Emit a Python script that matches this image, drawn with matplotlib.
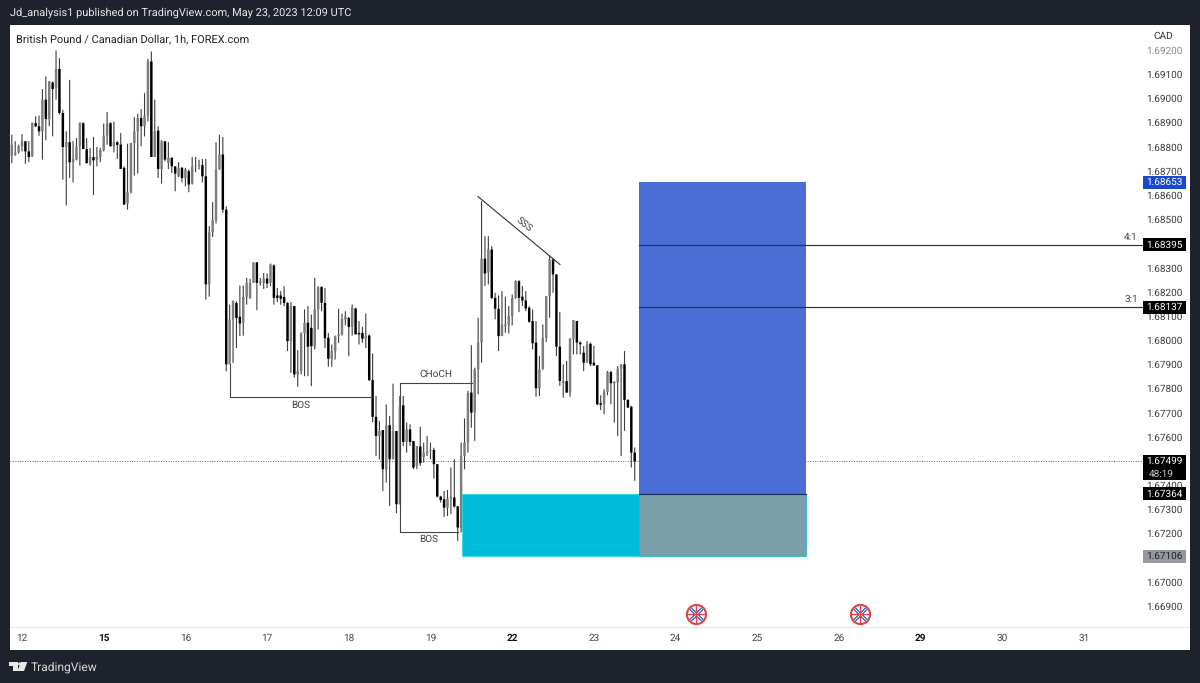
import matplotlib
matplotlib.use("Agg")
import matplotlib.pyplot as plt
from matplotlib.patches import Polygon, Rectangle, Circle
from matplotlib.transforms import IdentityTransform, blended_transform_factory

plt.rcParams['font.family'] = ['Roboto', 'DejaVu Sans']
plt.rcParams['text.hinting'] = 'no_hinting'
plt.rcParams['text.hinting_factor'] = 1

# ---------- data ----------
first_bar = -3
opens = [
1.68763,1.68768,1.68777,1.68802,1.68823,1.68781,1.68761,1.68898,1.68885,1.68864,1.68995,1.68915,1.69066,1.69043,1.69122,1.68940,1.68799,1.68819,1.68736,1.68747,
1.68802,1.68898,1.68791,1.68730,1.68758,1.68747,1.68758,1.68786,1.68846,1.68898,1.68802,1.68819,1.68809,1.68713,1.68565,1.68612,1.68816,1.68864,1.68919,1.68885,
1.68929,1.69153,1.68758,1.68867,1.68708,1.68823,1.68733,1.68754,1.68719,1.68678,1.68713,1.68671,1.68699,1.68648,1.68719,1.68722,1.68725,1.68678,1.68231,1.68447,
1.68496,1.68706,1.68768,1.68540,1.67900,1.68086,1.68154,1.68097,1.68072,1.68179,1.68175,1.68237,1.68322,1.68237,1.68237,1.68255,1.68237,1.68309,1.68185,1.68185,
1.68179,1.68154,1.67996,1.68141,1.67858,1.67872,1.68028,1.68072,1.68051,1.67975,1.68127,1.68220,1.68154,1.68010,1.67923,1.67955,1.68017,1.68024,1.68086,1.68092,
1.68055,1.68131,1.68030,1.68030,1.68006,1.68019,1.67835,1.67683,1.67604,1.67628,1.67466,1.67648,1.67507,1.67624,1.67321,1.67730,1.67579,1.67631,1.67583,1.67480,
1.67560,1.67518,1.67532,1.67542,1.67546,1.67487,1.67353,1.67342,1.67307,1.67345,1.67349,1.67312,1.67225,1.67521,1.67576,1.67783,1.67700,1.67879,1.67990,1.68337,
1.68279,1.68375,1.68175,1.68130,1.68017,1.68058,1.68065,1.68100,1.68175,1.68244,1.68180,1.68164,1.68134,1.68079,1.67990,1.67801,1.67879,1.68010,1.68182,1.68334,
1.68272,1.67973,1.67822,1.67831,1.67783,1.68003,1.68079,1.67990,1.67948,1.67907,1.67985,1.67907,1.67896,1.67739,1.67735,1.67786,1.67868,1.67822,1.67824,1.67882,
1.67900,1.67753,1.67725,1.67535]
closes = [
1.68809,1.68777,1.68802,1.68823,1.68781,1.68758,1.68898,1.68885,1.68864,1.68995,1.68915,1.69071,1.69039,1.69122,1.68940,1.68799,1.68819,1.68736,1.68750,1.68802,
1.68898,1.68791,1.68733,1.68758,1.68744,1.68758,1.68788,1.68846,1.68896,1.68802,1.68819,1.68808,1.68708,1.68561,1.68612,1.68816,1.68864,1.68919,1.68885,1.68929,
1.69153,1.68758,1.68864,1.68708,1.68823,1.68747,1.68754,1.68719,1.68689,1.68713,1.68671,1.68706,1.68644,1.68719,1.68722,1.68726,1.68678,1.68231,1.68447,1.68496,
1.68706,1.68768,1.68540,1.67900,1.68086,1.68161,1.68092,1.68069,1.68179,1.68237,1.68237,1.68322,1.68237,1.68244,1.68255,1.68234,1.68313,1.68175,1.68175,1.68171,
1.68154,1.67996,1.68141,1.67858,1.67872,1.68028,1.68072,1.67973,1.67975,1.68127,1.68220,1.68154,1.68008,1.67923,1.67955,1.68017,1.68024,1.68088,1.68097,1.68055,
1.68134,1.68024,1.68024,1.68006,1.68017,1.67835,1.67683,1.67604,1.67624,1.67466,1.67648,1.67507,1.67624,1.67321,1.67728,1.67579,1.67631,1.67579,1.67473,1.67562,
1.67491,1.67535,1.67539,1.67546,1.67487,1.67353,1.67339,1.67307,1.67345,1.67352,1.67312,1.67225,1.67521,1.67576,1.67780,1.67700,1.67879,1.67990,1.68337,1.68276,
1.68375,1.68175,1.68130,1.68017,1.68065,1.68065,1.68100,1.68175,1.68244,1.68175,1.68164,1.68131,1.68076,1.67987,1.67801,1.67879,1.68010,1.68182,1.68334,1.68272,
1.67973,1.67831,1.67831,1.67783,1.68007,1.68083,1.67990,1.67983,1.67907,1.67983,1.67900,1.67896,1.67735,1.67733,1.67786,1.67868,1.67822,1.67827,1.67882,1.67900,
1.67753,1.67721,1.67535,1.67499]
highs = [
1.68850,1.68823,1.68809,1.68853,1.68823,1.68823,1.68901,1.68926,1.68929,1.69039,1.69091,1.69071,1.69071,1.69199,1.69167,1.68953,1.68864,1.69077,1.68823,1.68836,
1.68901,1.68901,1.68836,1.68795,1.68841,1.68799,1.68795,1.68896,1.68944,1.68901,1.68904,1.68823,1.68857,1.68719,1.68813,1.68816,1.68923,1.68937,1.68956,1.69022,
1.69163,1.69194,1.68995,1.68885,1.68827,1.68823,1.68819,1.68757,1.68719,1.68736,1.68717,1.68713,1.68706,1.68758,1.68758,1.68747,1.68750,1.68750,1.68472,1.68571,
1.68819,1.68850,1.68841,1.68554,1.68147,1.68164,1.68161,1.68226,1.68226,1.68258,1.68254,1.68322,1.68322,1.68258,1.68278,1.68276,1.68317,1.68313,1.68216,1.68203,
1.68223,1.68157,1.68157,1.68141,1.67959,1.68033,1.68127,1.68141,1.68106,1.68258,1.68223,1.68223,1.68216,1.68030,1.67982,1.68019,1.68130,1.68110,1.68120,1.68097,
1.68147,1.68134,1.68079,1.68055,1.68110,1.68024,1.67945,1.67769,1.67666,1.67628,1.67734,1.67686,1.67820,1.67624,1.67769,1.67769,1.67659,1.67652,1.67583,1.67562,
1.67642,1.67576,1.67604,1.67576,1.67555,1.67487,1.67356,1.67376,1.67380,1.67473,1.67507,1.67314,1.67576,1.67676,1.67790,1.67979,1.67886,1.68093,1.68575,1.68430,
1.68430,1.68389,1.68196,1.68185,1.68203,1.68180,1.68141,1.68189,1.68248,1.68248,1.68224,1.68203,1.68141,1.68127,1.68079,1.67934,1.68065,1.68182,1.68348,1.68334,
1.68272,1.68116,1.67900,1.67914,1.68007,1.68083,1.68079,1.67996,1.67976,1.67996,1.67990,1.67976,1.67896,1.67772,1.67797,1.67873,1.67873,1.67831,1.67893,1.67900,
1.67955,1.67755,1.67728,1.67556]
lows = [
1.68733,1.68763,1.68772,1.68781,1.68730,1.68736,1.68758,1.68882,1.68846,1.68747,1.68827,1.68885,1.68843,1.68995,1.68933,1.68664,1.68558,1.68671,1.68653,1.68744,
1.68722,1.68791,1.68730,1.68722,1.68600,1.68719,1.68736,1.68781,1.68809,1.68802,1.68777,1.68750,1.68708,1.68561,1.68540,1.68607,1.68681,1.68689,1.68802,1.68843,
1.68905,1.68758,1.68761,1.68671,1.68648,1.68740,1.68708,1.68692,1.68616,1.68675,1.68653,1.68637,1.68612,1.68644,1.68695,1.68706,1.68653,1.68168,1.68180,1.68427,
1.68483,1.68706,1.68527,1.67871,1.67906,1.67906,1.67968,1.68017,1.68019,1.68147,1.68171,1.68237,1.68124,1.68226,1.68212,1.68216,1.68223,1.68147,1.68157,1.68147,
1.68141,1.67955,1.67865,1.67845,1.67807,1.67858,1.67851,1.67851,1.67810,1.67962,1.68044,1.68120,1.67968,1.67890,1.67890,1.67920,1.67989,1.68019,1.68061,1.67934,
1.68019,1.68024,1.67982,1.67989,1.67968,1.67831,1.67661,1.67521,1.67507,1.67376,1.67411,1.67314,1.67507,1.67284,1.67321,1.67562,1.67535,1.67562,1.67466,1.67466,
1.67480,1.67493,1.67521,1.67507,1.67427,1.67349,1.67328,1.67269,1.67273,1.67280,1.67307,1.67170,1.67205,1.67466,1.67535,1.67638,1.67583,1.67776,1.67907,1.68224,
1.68231,1.68170,1.68086,1.67955,1.68017,1.68031,1.68028,1.68061,1.68171,1.68116,1.68141,1.68120,1.68072,1.67962,1.67766,1.67769,1.67879,1.67992,1.68093,1.68196,
1.67934,1.67811,1.67762,1.67783,1.67766,1.67941,1.67941,1.67941,1.67872,1.67907,1.67893,1.67893,1.67731,1.67711,1.67693,1.67772,1.67735,1.67659,1.67604,1.67521,
1.67625,1.67721,1.67473,1.67418]

price_ticks = [1.692,1.691,1.690,1.689,1.688,1.687,1.686,1.685,1.683,1.682,1.681,1.680,
               1.679,1.678,1.677,1.676,1.674,1.673,1.672,1.670,1.669]
date_labels = ['12','15','16','17','18','19','22','23','24','25','26','29','30','31']
bold_dates = ['15','22','29']
bars_per_day = 24

last_price = 1.67499
countdown = '48:19'
target_price = 1.68653
entry_price = 1.67364
stop_price = 1.67106
level_prices = [1.68395, 1.68137]
level_labels = ['4:1', '3:1']

position_start, position_mid, position_end = 129.3, 181.25, 230.3
bos1_bars = [61.1, 61.1, 102.8]
bos1_prices = [1.67900, 1.67763, 1.67763]
choch_bars = [132.2, 111.1, 111.1, 128.1]
choch_prices = [1.67821, 1.67821, 1.67207, 1.67207]
sss_bars = [133.96, 158.05]
sss_prices = [1.68594, 1.68313]
note_labels = ['BOS', 'CHoCH', 'BOS', 'SSS']
note_bars = [82.0, 121.6, 119.6, 147.5]
note_prices = [1.67730, 1.67858, 1.67176, 1.68478]
note_rotation = [0, 0, 0, -39]
flag_bars = [198.0, 246.2]
flag_price = 1.66867

# ---------- layout ----------
W, H = 1200, 683
DARK = '#1e222d'
fig = plt.figure(figsize=(W/100, H/100), dpi=100, facecolor=DARK)
L, R, T, B = 10, 1190, 25, 650
ax = fig.add_axes([L/W, 1-B/H, (R-L)/W, (B-T)/H], facecolor='white')
px_per_bar, x0 = 3.404, 22
PX_PER_UNIT, Y_AT_1691 = 24170, 74.3
ax.set_xlim((L-x0)/px_per_bar, (R-x0)/px_per_bar)
ax.set_ylim(1.691-(B-Y_AT_1691)/PX_PER_UNIT, 1.691+(Y_AT_1691-T)/PX_PER_UNIT)
for s in ax.spines.values():
    s.set_visible(False)

# ticks drawn inside the panel, like the price and time scales
ax.yaxis.tick_right()
ax.set_yticks(price_ticks)
ax.set_yticklabels([f'{p:.5f}' for p in price_ticks], ha='right')
ax.tick_params(axis='y', length=0, pad=-5.5, labelsize=7.2, labelcolor='#3a3a3a')
ax.get_yticklabels()[0].set_color('#8a8a8a')
ax.set_xticks([k*bars_per_day for k in range(len(date_labels))])
ax.set_xticklabels(date_labels)
ax.tick_params(axis='x', length=0, pad=-12, labelsize=7.4, labelcolor='#444444')
for lab in ax.get_xticklabels():
    if lab.get_text() in bold_dates:
        lab.set_fontweight('bold')
        lab.set_color('#111111')
ax.set_axisbelow(True)

# time-scale separator
ax.axhline(1.691-(627-Y_AT_1691)/PX_PER_UNIT, color='#e6e6e6', lw=0.8, zorder=1)

# candles
idx = [first_bar+i for i in range(len(opens))]
wicks = ax.vlines(idx, lows, highs, color='#3c3c3c', lw=0.8, zorder=3)
wicks.set_snap(False)
for i, o, c in zip(idx, opens, closes):
    up = c >= o
    rects = ax.bar(i, abs(c-o), bottom=min(o, c), width=0.72,
                   color='#7d7d7d' if up else '#000000', linewidth=0, zorder=3.2)
    rects[0].set_snap(False)

# position tool
axis_bar = (1143-x0)/px_per_bar

# last price
ax.plot([ax.get_xlim()[0], axis_bar], [last_price]*2, color='#666666',
        lw=0.7, ls=(0, (1, 1.5)), zorder=2.5)

ax.add_patch(Rectangle((position_start, stop_price), position_mid-position_start, entry_price-stop_price,
                       fc='#00bcd8', ec='#22d3ee', lw=0.5, zorder=4))
ax.add_patch(Rectangle((position_mid, stop_price), position_end-position_mid, entry_price-stop_price,
                       fc='#7b9eab', ec='#00bcd8', lw=0.5, zorder=4))
ax.add_patch(Rectangle((position_mid, entry_price), position_end-position_mid, target_price-entry_price,
                       fc='#4a6dd6', ec='none', zorder=4))
ax.plot([position_mid, position_end], [entry_price]*2, color='#1a2a55', lw=0.8, zorder=4.5)

# target levels
for p, t in zip(level_prices, level_labels):
    ax.plot([position_mid, axis_bar], [p, p], color='#333333', lw=0.85, zorder=4.5)
    ax.text(axis_bar-1.5, p+0.00012, t, ha='right', va='bottom', fontsize=7, color='#444444', zorder=5)

# structure drawings
ax.plot(bos1_bars, bos1_prices, color='#444444', lw=0.8, zorder=3.6)
ax.plot(choch_bars, choch_prices, color='#444444', lw=0.8, zorder=3.6)
ax.plot(sss_bars, sss_prices, color='#333333', lw=0.8, zorder=3.6)
for t, b, p, r in zip(note_labels, note_bars, note_prices, note_rotation):
    ax.text(b, p, t, ha='center', va='center', rotation=r, rotation_mode='anchor',
            fontsize=7.2, color='#444444', zorder=5)

# event flags
ax.plot(flag_bars, [flag_price]*2, ls='', marker='o', ms=13.8, mfc='white', mec='#e0434b', mew=1.5, zorder=5)
ax.plot(flag_bars, [flag_price]*2, ls='', marker='x', ms=8, mec='#2b4fa8', mew=2.4, zorder=5.1)
ax.plot(flag_bars, [flag_price]*2, ls='', marker='x', ms=9, mec='white', mew=0.7, zorder=5.15)
ax.plot(flag_bars, [flag_price]*2, ls='', marker='+', ms=12.5, mec='#e0434b', mew=1.0, zorder=5.2)

# price labels on the scale
trans = blended_transform_factory(ax.transAxes, ax.transData)
def label_x(px):
    return (px-L)/(R-L)
boxes = [(target_price, '#1848cc', 'white'), (level_prices[0], 'black', 'white'),
         (level_prices[1], 'black', 'white'), (entry_price, 'black', 'white'),
         (stop_price, '#9598a1', '#222222')]
for p, bg, fg in boxes:
    ax.add_patch(Rectangle((label_x(1143), p-6.5/PX_PER_UNIT), 43/(R-L), 13/PX_PER_UNIT, transform=trans,
                           fc=bg, ec='none', zorder=6))
    ax.text(label_x(1182.5), p, f'{p:.5f}', transform=trans, ha='right', va='center',
            fontsize=7.2, color=fg, zorder=7)
ax.add_patch(Rectangle((label_x(1143), last_price-18.5/PX_PER_UNIT), 43/(R-L), 25/PX_PER_UNIT, transform=trans,
                       fc='black', ec='none', zorder=6))
ax.text(label_x(1182.5), last_price, f'{last_price:.5f}', transform=trans, ha='right', va='center',
        fontsize=7.2, color='white', zorder=7)
ax.text(label_x(1149), last_price-12.5/PX_PER_UNIT, countdown, transform=trans, ha='left', va='center',
        fontsize=7.2, color='#cccccc', zorder=7)

# header / footer text
ax.text(label_x(16), (B-39)/(B-T), 'British Pound / Canadian Dollar, 1h, FOREX.com',
        transform=ax.transAxes, ha='left', va='center', fontsize=8.1, color='#222222', zorder=7)
ax.text(label_x(1153), (B-36)/(B-T), 'CAD', transform=ax.transAxes, ha='left', va='center',
        fontsize=7, color='#333333', zorder=7)
fig.text(10/W, 1-13/H, 'Jd_analysis1 published on TradingView.com, May 23, 2023 12:09 UTC',
         color='#e8e8e8', fontsize=8.1, ha='left', va='center')
fig.text(31/W, 1-667/H, 'TradingView', color='#d8d8d8', fontsize=8.8, ha='left', va='center')

# logo
def px_poly(points):
    return Polygon([(x, H-y) for x, y in points], closed=True, fc='#e8e8e8', ec='none',
                   transform=IdentityTransform())
fig.add_artist(px_poly([(9.3, 662), (18.3, 662), (18.3, 671), (13.3, 671), (13.3, 666), (9.3, 666)]))
fig.add_artist(px_poly([(21, 662), (27.3, 662), (24, 671), (17.5, 671)]))
fig.add_artist(Circle((19.7, H-664), 1.6, fc='#e8e8e8', ec='none', transform=IdentityTransform()))

fig.savefig('out.png', dpi=100, facecolor=DARK)
